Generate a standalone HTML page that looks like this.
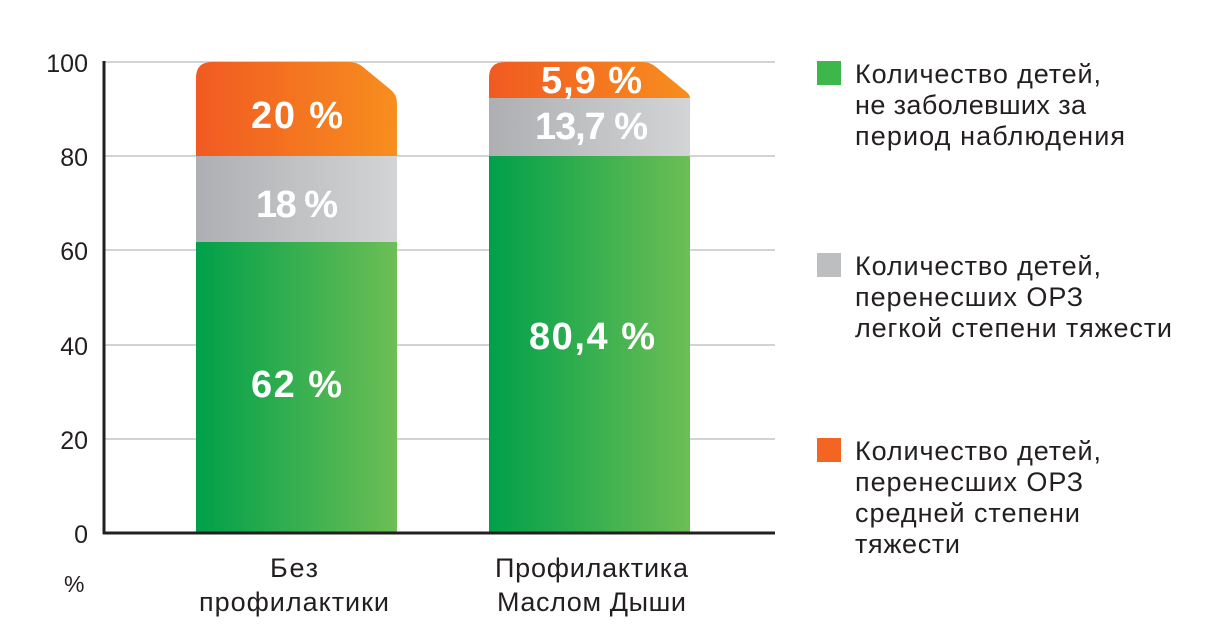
<!DOCTYPE html><html><head><style>body{margin:0;background:#fff}svg{display:block}</style></head><body>
<svg width="1206" height="634" viewBox="0 0 1206 634" font-family="Liberation Sans, sans-serif">
<defs>
<linearGradient id="o"><stop offset="0" stop-color="#f15a22"/><stop offset="1" stop-color="#f78e1e"/></linearGradient>
<linearGradient id="g"><stop offset="0" stop-color="#adafb2"/><stop offset="1" stop-color="#d3d4d5"/></linearGradient>
<linearGradient id="n"><stop offset="0" stop-color="#00a04a"/><stop offset="1" stop-color="#6dbe55"/></linearGradient>
</defs>
<g stroke="#d1d3d4" stroke-width="2">
<line x1="104" y1="62" x2="775" y2="62"/><line x1="104" y1="156" x2="775" y2="156"/><line x1="104" y1="250" x2="775" y2="250"/><line x1="104" y1="345" x2="775" y2="345"/><line x1="104" y1="439" x2="775" y2="439"/>
</g>
<g font-size="25" fill="#231f20" text-anchor="end">
<text x="88" y="72">100</text><text x="88" y="166">80</text><text x="88" y="260">60</text><text x="88" y="355">40</text><text x="88" y="449">20</text><text x="88" y="543">0</text>
</g>
<text x="64" y="592" font-size="23" fill="#231f20">%</text>
<rect x="196" y="242" width="201" height="291" fill="url(#n)"/>
<rect x="196" y="156" width="201" height="86" fill="url(#g)"/>
<path d="M196 156 V78 Q196 62 212 62 H350 Q357 62 363 67 L391 90 Q397 95 397 103 V156 Z" fill="url(#o)"/>
<rect x="489" y="156" width="201" height="377" fill="url(#n)"/>
<rect x="489" y="98" width="201" height="58" fill="url(#g)"/>
<path d="M489 98 V78 Q489 62 505 62 H643 Q650 62 656 67 L684 90 Q690 94 690 98 Z" fill="url(#o)"/>
<g fill="#fff" font-weight="bold" font-size="38">
<text x="251" y="128" textLength="92">20 %</text><text x="256" y="217" textLength="82">18 %</text><text x="251" y="397" textLength="91">62 %</text>
<text x="541" y="93" textLength="101">5,9 %</text><text x="535" y="139" textLength="113">13,7 %</text><text x="529" y="349" textLength="126">80,4 %</text>
</g>
<line x1="104" y1="61" x2="104" y2="534" stroke="#231f20" stroke-width="3"/>
<line x1="103" y1="533" x2="775" y2="533" stroke="#231f20" stroke-width="3"/>
<g font-size="27" fill="#231f20">
<text x="270" y="577" textLength="48">Без</text><text x="199" y="611" textLength="190">профилактики</text>
<text x="495" y="577" textLength="193">Профилактика</text><text x="497" y="611" textLength="189">Маслом Дыши</text>
</g>
<rect x="817" y="61" width="24" height="24" fill="#3db64b"/>
<rect x="817" y="253" width="24" height="24" fill="#bcbec0"/>
<rect x="817" y="438" width="24" height="24" fill="#f26522"/>
<g font-size="27" fill="#231f20">
<text x="855" y="83" textLength="246">Количество детей,</text><text x="855" y="114" textLength="231">не заболевших за</text><text x="855" y="145" textLength="270">период наблюдения</text>
<text x="855" y="275" textLength="246">Количество детей,</text><text x="855" y="306" textLength="228">перенесших ОРЗ</text><text x="855" y="337" textLength="317">легкой степени тяжести</text>
<text x="855" y="460" textLength="246">Количество детей,</text><text x="855" y="491" textLength="228">перенесших ОРЗ</text><text x="855" y="522" textLength="225">средней степени</text><text x="855" y="553" textLength="105">тяжести</text>
</g>
</svg>
</body></html>
